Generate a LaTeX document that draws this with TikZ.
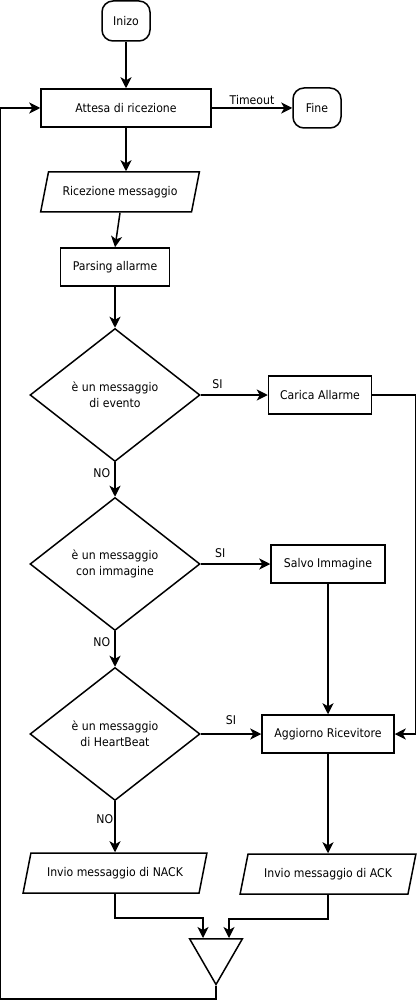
\documentclass[tikz,border=0pt]{standalone}
\usepackage{fontspec}
\setmainfont{DejaVu Sans}[FakeStretch=0.91]
\usetikzlibrary{arrows.meta,positioning,shapes.geometric}

\begin{document}
\begin{tikzpicture}[x=1pt,y=-1pt,->,>={Stealth[length=11pt,width=11pt,inset=3pt]},
    line width=1.5pt,font=\fontsize{12}{16}\selectfont,
    proc node/.style={rectangle,draw,minimum height=38pt},
    term node/.style={rectangle,draw,rounded corners=11pt,
      minimum width=48pt,minimum height=40pt},
    io node/.style={trapezium,trapezium left angle=70,trapezium right angle=110,
      trapezium stretches=true,draw,minimum height=40pt},
    dec node/.style={diamond,draw,align=center,minimum width=170pt,
      minimum height=133pt,inner sep=0pt},
    merge node/.style={regular polygon,regular polygon sides=3,
      shape border rotate=180,draw,minimum size=61pt,inner sep=0pt}]
    \useasboundingbox (0,0) rectangle (416,1000);

    \node[term node] (START) at (126,21) {Inizo};
    \node[proc node,minimum width=170pt] (WAIT) [node distance=87pt, below of=START] {Attesa di ricezione};
    \node[term node] (END) [node distance=191pt, right of=WAIT] {Fine};
    \node[io node,minimum width=159pt] (RX) [node distance=84pt, below of=WAIT, xshift=-6pt] {Ricezione messaggio};
    \node[proc node,minimum width=109pt] (PARSE) [node distance=75pt, below of=RX, xshift=-5pt] {Parsing allarme};
    \node[dec node] (EV) [node distance=128pt, below of=PARSE] {è un messaggio\\di evento};
    \node[dec node] (IMG) [node distance=169pt, below of=EV] {è un messaggio\\con immagine};
    \node[dec node] (HB) [node distance=170pt, below of=IMG] {è un messaggio\\di HeartBeat};
    \node[io node,minimum width=184pt] (NACK) [node distance=139pt, below of=HB] {Invio messaggio di NACK};
    \node[proc node,minimum width=103pt] (LOAD) [node distance=205pt, right of=EV] {Carica Allarme};
    \node[proc node,minimum width=114pt] (SAVE) [node distance=213pt, right of=IMG] {Salvo Immagine};
    \node[proc node,minimum width=132pt] (UPD) [node distance=213pt, right of=HB] {Aggiorno Ricevitore};
    \node[io node,minimum width=176pt] (ACK) [node distance=140pt, below of=UPD] {Invio messaggio di ACK};
    \node[merge node] (MRG) at (216,954) {};

    \path[every node/.style={inner sep=2pt}]
    (START) edge (WAIT)
    (WAIT) edge node[above,yshift=1pt] {Timeout} (END)
    (WAIT.south) edge (WAIT.south |- RX.north)
    (RX.south) edge (PARSE.north)
    (PARSE) edge (EV)
    (EV) edge node[above,pos=0.25,yshift=4pt] {SI} (LOAD)
    (EV) edge node[left,pos=0.32,inner sep=4pt] {NO} (IMG)
    (IMG) edge node[above,pos=0.28,yshift=4pt] {SI} (SAVE)
    (IMG) edge node[left,pos=0.32,inner sep=4pt] {NO} (HB)
    (HB) edge node[above,pos=0.5,yshift=7pt] {SI} (UPD)
    (HB.south) edge node[left,pos=0.36,inner sep=1pt] {NO} (HB.south |- NACK.north)
    (SAVE) edge (UPD)
    (UPD.south) edge (UPD.south |- ACK.north)
    ;
    \draw (LOAD.east) -- ++(43,0) |- (UPD.east);
    \draw (NACK.center |- NACK.south) -- ++(0,24) -| ([xshift=-13pt]MRG.north);
    \draw (ACK.center |- ACK.south) -- ++(0,24) -| ([xshift=13pt]MRG.north);
    \draw (MRG.south) -- ++(0,13) -| ([xshift=-40pt]WAIT.west) -- (WAIT.west);
  \end{tikzpicture}
\end{document}
